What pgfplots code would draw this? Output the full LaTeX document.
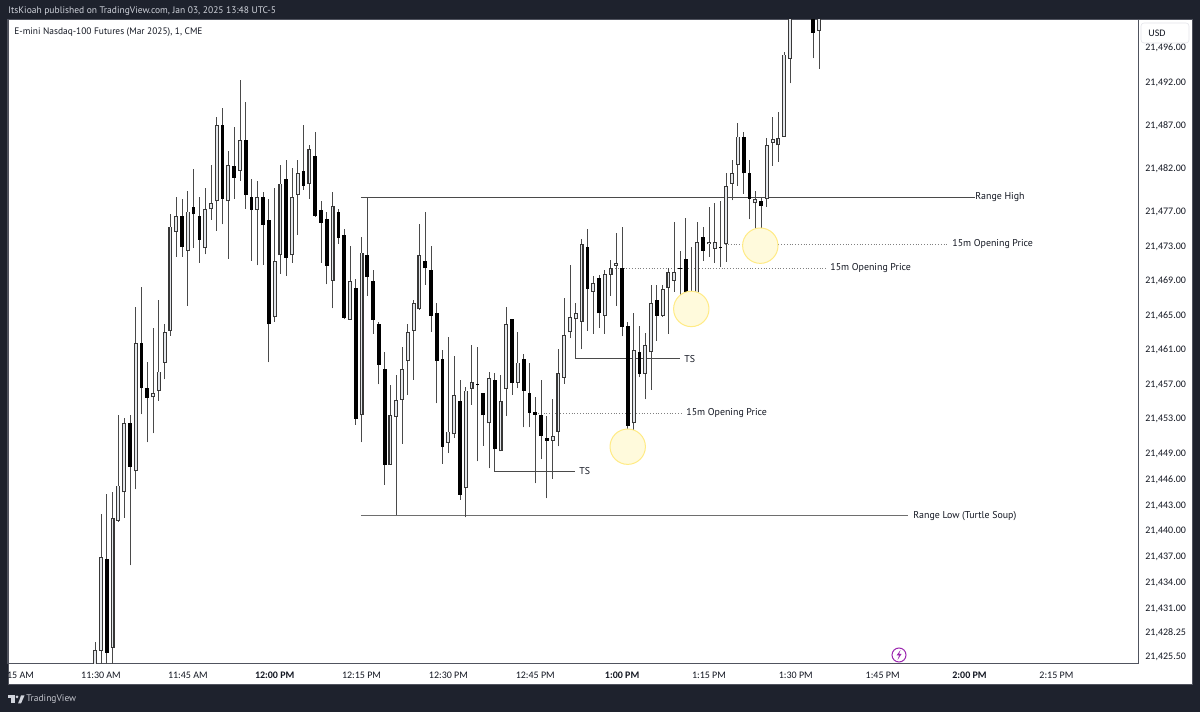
\documentclass[border=0pt]{standalone}
\usepackage{fontspec}
\usepackage{pgfplots}
\usepackage{pgfplotstable}
\pgfplotsset{compat=1.18}
\setmainfont{PT Sans}
\newfontfamily\tickfont{Carlito}
\definecolor{tvbg}{HTML}{1E222D}
\definecolor{tvedge}{HTML}{50535E}
\definecolor{tvtext}{HTML}{131722}
\definecolor{tvhead}{HTML}{D1D4DC}
\definecolor{bodyfill}{HTML}{E3E6EA}
\definecolor{wickc}{HTML}{4A4A4A}
\definecolor{upedge}{HTML}{383838}
\definecolor{circfill}{HTML}{FFFADC}
\definecolor{circedge}{HTML}{FFEB85}
\definecolor{boltc}{HTML}{9C27B0}
\newcommand{\fs}{\fontsize{4.95}{6.2}\selectfont}
\newcommand{\ts}{\tickfont\fontsize{5.0}{6.2}\selectfont}
% minutes after 11:30, open high low close
\pgfplotstableread{
t open high low close
-1 21424.00 21427.04 21424.00 21426.08
0 21426.00 21441.84 21424.00 21436.89
2 21426.35 21444.38 21424.00 21441.33
3 21441.03 21453.31 21440.91 21445.12
4 21444.35 21452.92 21441.41 21452.34
6 21446.78 21465.86 21444.69 21461.61
9 21455.35 21463.35 21451.18 21455.82
10 21456.13 21466.63 21454.97 21458.33
11 21459.37 21463.85 21457.44 21462.89
12 21463.08 21476.60 21462.46 21475.13
13 21474.55 21478.60 21471.65 21476.33
15 21472.35 21479.30 21465.94 21476.87
18 21472.62 21479.57 21471.92 21477.14
19 21477.14 21482.27 21475.90 21477.83
20 21478.06 21487.87 21474.63 21486.87
22 21478.06 21483.90 21471.38 21482.31
24 21481.58 21492.12 21480.42 21485.13
27 21477.10 21480.42 21470.65 21478.60
30 21464.62 21479.57 21464.12 21471.15
31 21471.81 21482.31 21469.64 21480.11
33 21471.81 21481.89 21470.96 21478.60
34 21478.84 21482.85 21474.16 21481.31
36 21480.11 21484.59 21478.37 21484.09
40 21468.83 21479.15 21465.67 21477.56
43 21464.35 21472.89 21464.35 21468.87
45 21453.27 21473.89 21450.14 21472.12
50 21447.55 21456.82 21447.55 21453.31
51 21453.11 21457.90 21441.68 21455.08
52 21455.04 21461.15 21449.95 21458.60
53 21459.60 21463.81 21455.66 21462.88
54 21463.04 21466.59 21457.40 21466.32
55 21465.55 21475.40 21465.47 21471.84
60 21450.03 21462.38 21448.87 21451.38
61 21451.07 21460.11 21450.68 21455.59
63 21444.89 21456.59 21441.45 21456.13
64 21456.36 21461.42 21454.47 21457.09
67 21452.34 21458.33 21447.13 21457.63
69 21449.10 21457.90 21449.10 21454.89
70 21456.36 21465.86 21453.23 21463.85
72 21457.05 21462.88 21456.40 21459.37
78 21450.33 21455.12 21445.89 21450.84
79 21451.38 21460.91 21449.68 21458.14
80 21457.59 21466.86 21456.90 21462.61
81 21462.88 21470.65 21462.19 21464.62
82 21464.39 21466.32 21460.91 21465.09
83 21464.12 21473.66 21460.91 21473.08
85 21467.60 21469.41 21462.69 21468.60
87 21464.78 21470.11 21462.69 21469.60
88 21469.57 21471.30 21467.13 21470.34
89 21470.61 21474.35 21465.94 21470.88
92 21452.34 21465.09 21450.60 21460.84
94 21458.10 21462.77 21455.12 21461.38
95 21460.57 21468.33 21456.20 21466.32
97 21464.78 21468.37 21464.70 21467.91
98 21468.06 21470.34 21462.69 21469.84
99 21468.83 21475.63 21467.60 21469.84
102 21467.37 21472.81 21465.16 21467.63
103 21467.02 21475.63 21466.86 21473.31
105 21473.08 21477.37 21471.65 21473.31
106 21472.58 21477.83 21470.96 21473.31
108 21473.08 21481.31 21471.03 21479.84
109 21480.07 21482.85 21478.18 21481.31
110 21482.27 21487.10 21479.88 21485.56
113 21477.83 21479.30 21474.43 21478.30
115 21478.33 21485.36 21477.45 21484.59
116 21484.86 21487.83 21482.20 21485.32
117 21484.55 21488.38 21482.62 21485.36
118 21485.56 21495.33 21485.56 21495.06
119 21494.59 21506.00 21491.73 21505.00
124 21497.84 21506.00 21493.43 21505.00
}\upcandles
\pgfplotstableread{
t open high low close
1 21436.62 21444.11 21424.00 21425.77
5 21452.34 21453.31 21435.89 21447.32
7 21461.61 21468.10 21453.38 21456.40
8 21456.40 21459.41 21450.14 21455.31
14 21476.33 21478.33 21471.65 21472.81
16 21477.41 21481.85 21472.70 21476.56
17 21476.33 21478.60 21470.96 21473.58
21 21486.87 21488.84 21475.40 21478.33
23 21482.12 21486.64 21478.37 21480.81
25 21485.13 21489.61 21477.18 21478.84
26 21478.60 21480.65 21471.19 21477.10
28 21478.60 21479.18 21470.69 21475.32
29 21475.86 21478.33 21459.41 21463.81
32 21480.65 21482.85 21469.45 21471.54
35 21481.58 21486.87 21479.38 21479.84
37 21483.35 21486.10 21476.29 21476.33
38 21477.10 21478.10 21470.96 21475.59
39 21476.06 21476.87 21468.45 21470.61
41 21476.87 21477.14 21473.16 21473.85
42 21474.16 21474.82 21464.39 21464.58
44 21468.06 21469.10 21452.15 21452.84
46 21471.84 21478.60 21467.13 21469.33
47 21468.83 21470.11 21462.69 21464.35
48 21463.85 21464.12 21456.86 21459.10
49 21458.60 21460.57 21445.20 21447.55
56 21471.15 21476.87 21468.37 21470.30
57 21470.11 21472.85 21462.96 21464.82
58 21465.09 21466.32 21454.66 21459.60
59 21459.80 21460.84 21447.63 21449.60
62 21454.93 21457.37 21443.46 21444.08
65 21456.90 21461.15 21447.94 21456.80
66 21455.90 21455.90 21449.71 21453.27
68 21457.37 21458.14 21446.82 21449.33
71 21464.39 21464.39 21455.66 21457.05
73 21459.80 21460.37 21451.88 21456.13
74 21455.86 21459.37 21451.88 21453.58
75 21453.62 21455.35 21445.39 21453.31
76 21453.31 21457.37 21448.17 21450.84
77 21450.60 21453.15 21443.65 21450.33
84 21472.81 21474.82 21463.04 21467.91
86 21469.14 21469.57 21463.39 21465.09
90 21470.34 21475.13 21462.42 21463.54
91 21463.62 21464.12 21449.64 21452.03
93 21460.60 21463.62 21457.67 21458.10
96 21466.59 21468.37 21461.88 21464.82
100 21470.38 21472.35 21466.44 21470.26
101 21471.34 21476.10 21465.39 21466.79
104 21473.89 21475.05 21471.19 21472.35
107 21472.77 21478.10 21470.41 21472.62
111 21485.56 21486.06 21478.95 21481.31
112 21481.31 21482.85 21475.98 21478.33
114 21478.06 21478.60 21472.89 21477.56
123 21505.00 21506.00 21494.63 21497.61
}\downcandles
\pgfplotsset{
  wick/.style={draw=none, mark=none, forget plot,
    error bars/.cd, y dir=plus, y explicit, error mark=none,
    error bar style={solid, draw=wickc, line width=0.42pt}},
  bodyblack/.style={draw=none, mark=none, forget plot,
    error bars/.cd, y dir=plus, y explicit, error mark=none,
    error bar style={solid, draw=black, line width=1.85pt}},
  bodyup/.style={draw=none, mark=none, forget plot,
    error bars/.cd, y dir=plus, y explicit, error mark=none,
    error bar style={solid, draw=upedge, line width=2.0pt}},
  bodyinner/.style={draw=none, mark=none, forget plot,
    error bars/.cd, y dir=plus, y explicit, error mark=none,
    error bar style={solid, draw=bodyfill, line width=0.9pt}},
}
\begin{document}
\begin{tikzpicture}
\begin{scope}[x=0.5pt,y=0.5pt]
\fill[tvbg] (0,0) rectangle (1200,712);
\fill[white,draw=tvedge,line width=0.5pt] (8,27) rectangle (1192,692);
\end{scope}
\begin{axis}[
  at={(4pt,24pt)}, anchor=south west,
  scale only axis, width=565pt, height=322pt,
  xmin=-16.06, xmax=179.1, ymin=21424.45, ymax=21499.07,
  scaled y ticks=false, scaled x ticks=false,
  axis line style={draw=tvedge, line width=0.5pt},
  major tick length=0pt,
  xtick={-15,0,15,30,45,60,75,90,105,120,135,150,165},
  xticklabels={\phantom{11:}15 AM,11:30 AM,11:45 AM,\bfseries 12:00 PM,12:15 PM,12:30 PM,12:45 PM,\bfseries 1:00 PM,1:15 PM,1:30 PM,1:45 PM,\bfseries 2:00 PM,2:15 PM},
  ytick={21425.5,21428.25,21431,21434,21437,21440,21443,21446,21449,21453,21457,21461,21465,21469,21473,21477,21482,21487,21492,21496},
  yticklabels={{21,425.50},{21,428.25},{21,431.00},{21,434.00},{21,437.00},{21,440.00},{21,443.00},{21,446.00},{21,449.00},{21,453.00},{21,457.00},{21,461.00},{21,465.00},{21,469.00},{21,473.00},{21,477.00},{21,482.00},{21,487.00},{21,492.00},{21,496.00}},
  yticklabel pos=right,
  xticklabel style={font=\ts, text=tvtext, anchor=center, yshift=-5.5pt},
  yticklabel style={font=\ts, text=tvtext, anchor=west, inner sep=0pt, xshift=3.5pt, yshift=-0.8pt},
]
% highlighted retests
\addplot[only marks, mark=*, mark size=8.85pt, forget plot,
  mark options={draw=circedge, fill=circfill, line width=0.5pt}]
  coordinates {(90.97,21449.63) (101.95,21465.59) (113.87,21472.92)};
% annotation levels
\addplot[draw=wickc, line width=0.5pt, forget plot] coordinates {(44.9,21478.56) (150.9,21478.56)};
\addplot[draw=wickc!80!white, line width=0.5pt, forget plot] coordinates {(44.9,21441.60) (139.4,21441.60)};
\addplot[draw=gray, densely dotted, line width=0.4pt, forget plot] coordinates {(107.8,21473.12) (146.3,21473.12)};
\addplot[draw=gray, densely dotted, line width=0.4pt, forget plot] coordinates {(88.8,21470.34) (125.4,21470.34)};
\addplot[draw=gray, densely dotted, line width=0.4pt, forget plot] coordinates {(75,21453.54) (100.3,21453.54)};
\addplot[draw=wickc, line width=0.5pt, forget plot] coordinates {(68,21449.33) (68,21446.8) (81.9,21446.8)};
\addplot[draw=wickc, line width=0.5pt, forget plot] coordinates {(82,21464.39) (82,21459.79) (100,21459.79)};
% wicks
\addplot[wick] table[x=t, y=low, y error plus expr=\thisrow{high}-\thisrow{low}] {\upcandles};
\addplot[wick] table[x=t, y=low, y error plus expr=\thisrow{high}-\thisrow{low}] {\downcandles};
% bodies
\addplot[bodyblack] table[x=t, y=close, y error plus expr=\thisrow{open}-\thisrow{close}] {\downcandles};
\addplot[bodyup] table[x=t, y=open, y error plus expr=\thisrow{close}-\thisrow{open}] {\upcandles};
\addplot[bodyinner] table[x=t, y expr=\thisrow{open}+0.1, y error plus expr={max(\thisrow{close}-\thisrow{open}-0.2,0)}] {\upcandles};
\end{axis}
\begin{scope}[x=0.5pt,y=0.5pt]
% header
\node[anchor=west,inner sep=0,font=\fontsize{4.76}{6}\selectfont,text=tvhead] at (8,700.5) {ItsKioah published on TradingView.com, Jan 03, 2025 13:48 UTC-5};
\node[anchor=west,inner sep=0,font=\fontsize{4.7}{6}\selectfont,text=tvtext] at (14,679.5) {E-mini Nasdaq-100 Futures (Mar 2025), 1, CME};
% USD box
\fill[white,draw=tvhead!60,line width=0.3pt,rounded corners=1.5pt] (1141,669) rectangle (1189,689);
\node[anchor=west,inner sep=0,font=\ts,text=tvtext] at (1148,678.5) {USD};
% annotation labels
\node[anchor=west,inner sep=0,font=\fs,text=tvtext] at (975,514.5) {Range High};
\node[anchor=west,inner sep=0,font=\fs,text=tvtext] at (913,195.5) {Range Low (Turtle Soup)};
\node[anchor=west,inner sep=0,font=\fs,text=tvtext] at (952,467.5) {15m Opening Price};
\node[anchor=west,inner sep=0,font=\fs,text=tvtext] at (830,443.5) {15m Opening Price};
\node[anchor=west,inner sep=0,font=\fs,text=tvtext] at (686,298.5) {15m Opening Price};
\node[anchor=west,inner sep=0,font=\fs,text=tvtext] at (579,240.5) {TS};
\node[anchor=west,inner sep=0,font=\fs,text=tvtext] at (684,352.5) {TS};
% bolt icon
\draw[boltc,line width=0.5pt,fill=white] (899,57) circle (7);
\fill[boltc] (900.5,62) -- (896.5,56.5) -- (899,56.5) -- (897.5,52) -- (901.5,58) -- (899,58) -- cycle;
% footer logo
\fill[tvhead] (8,16.5) rectangle (15,13.5);
\fill[tvhead] (11,13.5) rectangle (14.5,8.5);
\fill[tvhead] (17,15) circle (1.5);
\fill[tvhead] (18,8.5) -- (21,8.5) -- (24.5,16.5) -- (21,16.5) -- (19.5,12) -- cycle;
\node[anchor=west,inner sep=0,font=\fontsize{4.75}{6}\selectfont,text=tvhead!85!gray] at (26,13) {TradingView};
\pgfresetboundingbox
\useasboundingbox (0,0) rectangle (1200,712);
\end{scope}
\end{tikzpicture}
\end{document}
